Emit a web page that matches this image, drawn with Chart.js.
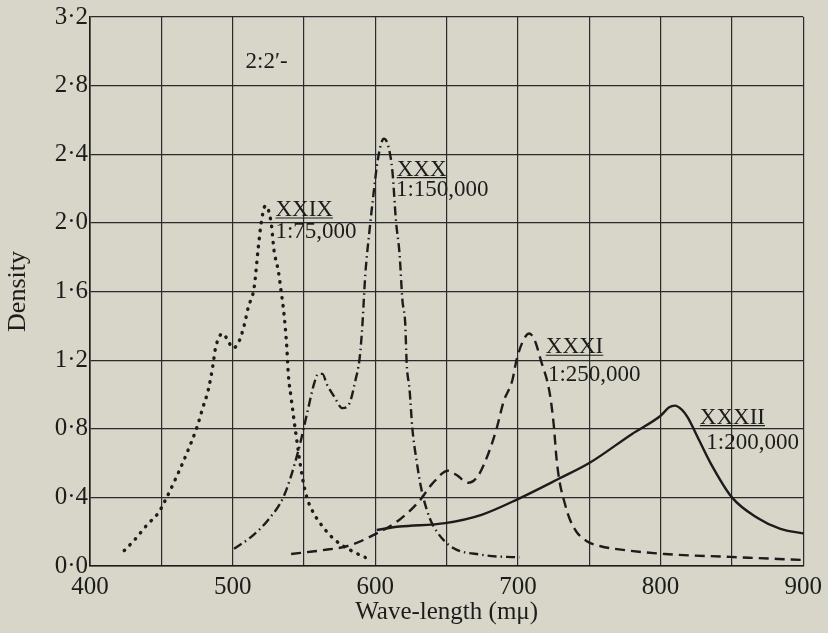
<!DOCTYPE html>
<html>
<head>
<meta charset="utf-8">
<script src="https://cdn.jsdelivr.net/npm/chart.js@4/dist/chart.umd.min.js"></script>
<style>
  html, body { margin: 0; padding: 0; background: #d8d6c8; }
  #wrap { width: 828px; height: 633px; }
</style>
</head>
<body>
<div id="wrap"><canvas id="chart" width="828" height="633"></canvas></div>
<script>
// absorption curves, wave-length (mμ) against density
const xxix = [[424,0.09],[431,0.15],[440,0.24],[448,0.31],[452,0.37],[459,0.49],[467,0.64],[475,0.81],[479,0.92],[483,1.03],[486,1.16],[488,1.27],[493,1.355],[497,1.31],[500,1.27],[504,1.30],[508,1.40],[511,1.51],[515,1.62],[518,1.86],[520,2.0],[523,2.10],[527,2.0],[529,1.84],[532,1.72],[534,1.60],[536,1.47],[538,1.27],[539,1.12],[541,0.98],[544,0.79],[549,0.51],[552,0.40],[556,0.32],[564,0.22],[572,0.15],[583,0.09],[593,0.05]];
const xxx = [[501,0.10],[513,0.17],[525,0.27],[536,0.41],[546,0.67],[550,0.81],[553,0.92],[557,1.06],[560,1.12],[563,1.12],[566,1.06],[571,0.99],[577,0.92],[582,0.95],[586,1.08],[589,1.21],[591,1.41],[592,1.56],[593,1.70],[596,1.96],[598.5,2.15],[602,2.38],[606,2.49],[609,2.45],[612,2.30],[614.5,2.01],[617,1.82],[619,1.55],[621,1.41],[622,1.18],[624,1.03],[626,0.80],[629,0.61],[632,0.46],[636,0.33],[640,0.245],[652,0.12],[675,0.065],[701,0.05]];
const xxxi = [[541,0.07],[561,0.09],[582,0.12],[601,0.19],[617,0.27],[631,0.38],[640,0.48],[651,0.555],[657,0.53],[665,0.485],[672,0.525],[679,0.65],[685,0.80],[690,0.96],[696,1.08],[699,1.20],[704,1.32],[708,1.355],[712,1.31],[716,1.20],[722,1.02],[725,0.83],[727,0.63],[729,0.50],[733,0.36],[736,0.28],[741,0.20],[748,0.146],[758,0.115],[768,0.10],[803,0.07],[849,0.053],[900,0.035]];
const xxxii = [[601,0.21],[617,0.23],[649,0.25],[675,0.30],[700,0.39],[729,0.51],[750,0.60],[780,0.77],[800,0.876],[806,0.925],[810,0.935],[815,0.91],[819,0.866],[826,0.75],[835,0.60],[850,0.40],[868,0.28],[884,0.216],[900,0.19]];

const xTickLabels = ['400', '500', '600', '700', '800', '900'];
const yTickLabels = ['0·0', '0·4', '0·8', '1·2', '1·6', '2·0', '2·4', '2·8', '3·2'];

// curve captions: [text, wave-length, density, underlined]
const captions = [
    ['2:2′-', 509, 2.94, false],
    ['XXIX', 530, 2.075, true],
    ['1:75,000', 530, 1.945, false],
    ['XXX', 615, 2.31, true],
    ['1:150,000', 614.5, 2.19, false],
    ['XXXI', 719.5, 1.275, true],
    ['1:250,000', 721, 1.115, false],
    ['XXXII', 827.5, 0.865, true],
    ['1:200,000', 832, 0.72, false]
];

const ink = '#1c1c1c';
const serif = '"Liberation Serif", "DejaVu Serif", serif';

function pts(arr) {
    return arr.map(p => ({x: p[0], y: p[1]}));
}

const captionPlugin = {
    id: 'captions',
    beforeDraw(chart) {
        const ctx = chart.ctx;
        ctx.save();
        ctx.fillStyle = '#d8d6c8';
        ctx.fillRect(0, 0, chart.width, chart.height);
        ctx.restore();
    },
    afterDatasetsDraw(chart) {
        const ctx = chart.ctx;
        const xs = chart.scales.x, ys = chart.scales.y;
        ctx.save();
        ctx.font = '23px ' + serif;
        ctx.fillStyle = ink;
        ctx.strokeStyle = ink;
        ctx.textAlign = 'left';
        ctx.textBaseline = 'middle';
        captions.forEach(c => {
            const px = xs.getPixelForValue(c[1]);
            const py = ys.getPixelForValue(c[2]);
            ctx.fillText(c[0], px, py);
            if (c[3]) {
                const w = ctx.measureText(c[0]).width;
                ctx.lineWidth = 1.2;
                ctx.beginPath();
                ctx.moveTo(px, py + 8);
                ctx.lineTo(px + w, py + 8);
                ctx.stroke();
            }
        });
        ctx.restore();
    }
};

const base = {
    borderColor: ink,
    borderWidth: 2.4,
    pointRadius: 0,
    fill: false,
    cubicInterpolationMode: 'monotone'
};

new Chart(document.getElementById('chart'), {
    type: 'line',
    data: {
        datasets: [
            Object.assign({}, base, {label: 'XXIX', data: pts(xxix), borderDash: [0.5, 7.5], borderCapStyle: 'round', borderWidth: 3.4}),
            Object.assign({}, base, {label: 'XXX', data: pts(xxx), borderDash: [9, 4, 1.5, 4]}),
            Object.assign({}, base, {label: 'XXXI', data: pts(xxxi), borderDash: [10, 6]}),
            Object.assign({}, base, {label: 'XXXII', data: pts(xxxii)})
        ]
    },
    options: {
        responsive: false,
        animation: false,
        events: [],
        layout: {padding: {left: 0, right: 22, top: 16, bottom: 0}},
        plugins: {legend: {display: false}, tooltip: {enabled: false}},
        scales: {
            x: {
                type: 'linear',
                min: 400,
                max: 900,
                border: {color: ink, width: 1.6},
                grid: {color: '#2a2a2a', lineWidth: 1.2, drawTicks: false},
                ticks: {
                    stepSize: 50,
                    padding: 6,
                    color: ink,
                    font: {family: serif, size: 25},
                    maxRotation: 0,
                    autoSkip: false,
                    callback: v => (v % 100 === 0 ? xTickLabels[(v - 400) / 100] : '')
                },
                title: {
                    display: true,
                    text: 'Wave-length (mμ)',
                    color: ink,
                    font: {family: serif, size: 25},
                    padding: {top: 0, bottom: 6}
                },
                afterFit(scale) { scale.height = 67; }
            },
            y: {
                min: 0,
                max: 3.2,
                border: {color: ink, width: 1.6},
                grid: {color: '#2a2a2a', lineWidth: 1.2, drawTicks: false},
                ticks: {
                    stepSize: 0.4,
                    padding: 2,
                    color: ink,
                    font: {family: serif, size: 25},
                    callback: (v, i) => yTickLabels[i]
                },
                title: {
                    display: true,
                    text: 'Density',
                    color: ink,
                    font: {family: serif, size: 26},
                    padding: {top: 3, bottom: 0}
                },
                afterFit(scale) { scale.width = 90; }
            }
        }
    },
    plugins: [captionPlugin]
});
</script>
</body>
</html>
